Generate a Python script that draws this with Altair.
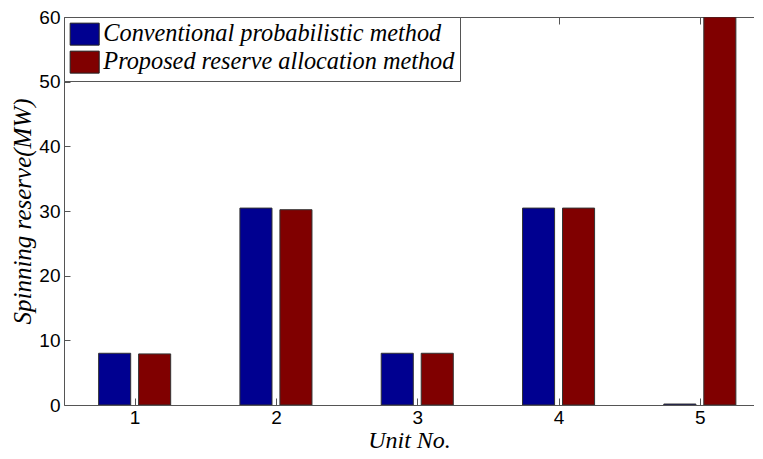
import altair as alt
import pandas as pd

units = [1, 2, 3, 4, 5]
series_names = ["Conventional probabilistic method", "Proposed reserve allocation method"]
conventional = [8.0, 30.45, 8.0, 30.45, 0.15]
proposed = [7.9, 30.2, 8.0, 30.45, 60.0]
colors = ["#000090", "#800000"]
y_ticks = [0, 10, 20, 30, 40, 50, 60]

rows = []
for u, a, b in zip(units, conventional, proposed):
    rows.append({"unit": u, "series": series_names[0], "side": -1, "value": a})
    rows.append({"unit": u, "series": series_names[1], "side": 1, "value": b})
df = pd.DataFrame(rows)

W = 690
H = 388
xscale = alt.Scale(domain=[0.5, 0.5 + W / 141.3], nice=False, zero=False)
yscale = alt.Scale(domain=[0, 60], nice=False)

label_font = "Liberation Sans Narrow, Liberation Sans, Arial"
serif = "Liberation Serif, Times New Roman"

base = alt.Chart(df).transform_calculate(
    x0="datum.unit + datum.side * 0.028",
    x1="datum.unit + datum.side * 0.255",
)

bars = base.mark_bar(stroke="#333333", strokeWidth=1, clip=True).encode(
    x=alt.X("x0:Q", scale=xscale,
            axis=alt.Axis(orient="bottom", values=units, format="d", ticks=False,
                          title="Unit No.", titleFont=serif, titleFontStyle="italic",
                          titleFontWeight="normal", titleFontSize=24,
                          titleY=42, titleBaseline="alphabetic",
                          labelFont=label_font, labelFontSize=19, labelPadding=3,
                          labelColor="black", domainColor="#555555")),
    x2="x1:Q",
    y=alt.Y("value:Q", scale=yscale,
            axis=alt.Axis(orient="left", values=y_ticks, format="d", ticks=False,
                          title="Spinning reserve(MW)", titleFont=serif,
                          titleFontStyle="italic", titleFontWeight="normal",
                          titleFontSize=25, titlePadding=3,
                          labelFont=label_font, labelFontSize=19, labelPadding=4,
                          labelColor="black", domainColor="#555555")),
    y2=alt.datum(0),
    color=alt.Color("series:N",
                    scale=alt.Scale(domain=series_names, range=colors),
                    legend=alt.Legend(title=None, orient="none", legendX=0, legendY=0,
                                      direction="vertical", fillColor="white",
                                      strokeColor="#555555", padding=5,
                                      symbolType="M-1,-1H1.64V1H-1Z", symbolSize=484,
                                      symbolStrokeColor="#222222", symbolStrokeWidth=1,
                                      symbolOpacity=1, labelFont=serif,
                                      labelFontStyle="italic", labelFontSize=24.3,
                                      labelColor="black", labelOffset=10, rowPadding=1,
                                      labelLimit=0)),
)

ticks_in = base.mark_point(opacity=0).encode(
    x=alt.X("unit:Q", scale=xscale,
            axis=alt.Axis(orient="top", offset=-H, values=units, labels=False,
                          domain=False, tickSize=7, tickColor="#555555", title="")),
    y=alt.Y("value:Q", scale=yscale,
            axis=alt.Axis(orient="right", offset=-W, values=y_ticks, labels=False,
                          domain=False, tickSize=6, tickColor="#555555", title="")),
)

top_frame = base.mark_point(opacity=0).encode(
    x=alt.X("unit:Q", scale=xscale,
            axis=alt.Axis(orient="bottom", offset=-H, values=units, labels=False,
                          domain=True, domainColor="#555555", tickSize=7,
                          tickColor="#555555", title="")),
    y=alt.Y("value:Q", scale=yscale, axis=None),
)

chart = alt.layer(bars, ticks_in, top_frame).resolve_axis(
    x="independent", y="independent"
).properties(
    width=W, height=H,
    autosize=alt.AutoSizeParams(type="none"),
    padding={"left": 56, "top": 9, "right": 0, "bottom": 46},
).configure_axis(grid=False).configure_view(strokeWidth=0)

chart.save("out.html", embed_options={"renderer": "svg", "actions": False})
